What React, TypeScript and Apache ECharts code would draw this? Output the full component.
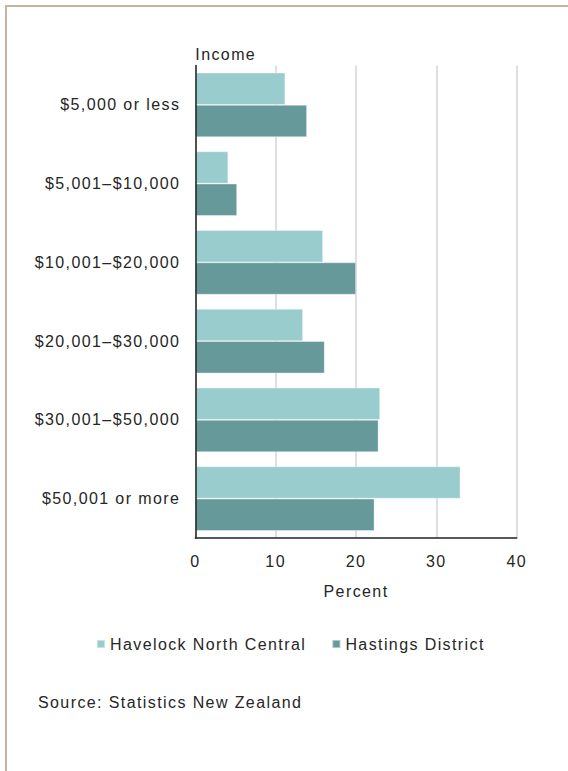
import React, { useEffect, useRef } from "react";
import * as echarts from "echarts";

const categories = [
  "$5,000 or less",
  "$5,001–$10,000",
  "$10,001–$20,000",
  "$20,001–$30,000",
  "$30,001–$50,000",
  "$50,001 or more",
];
const havelockNorthCentral = [11.2, 4.1, 15.9, 13.4, 23.0, 33.0];
const hastingsDistrict = [13.9, 5.2, 20.0, 16.1, 22.8, 22.3];
const seriesNames = ["Havelock North Central", "Hastings District"];
const xTicks = { min: 0, max: 40, interval: 10 };
const xAxisTitle = "Percent";
const yAxisTitle = "Income";
const sourceNote = "Source: Statistics New Zealand";

const FONT = "'Liberation Sans', Arial, sans-serif";
const FS = 16;
const TEXT = "#262626";

export default function App() {
  const ref = useRef<HTMLDivElement>(null);
  useEffect(() => {
    if (!ref.current) return;
    const chart = echarts.init(ref.current, undefined, { renderer: "svg" });
    chart.setOption({
      animation: false,
      backgroundColor: "#ffffff",
      textStyle: { fontFamily: FONT, fontSize: FS, color: TEXT },
      grid: { left: 195.3, right: 51.3, top: 65.5, bottom: 233, containLabel: false },
      legend: {
        left: 91,
        top: 631,
        itemWidth: 8,
        itemHeight: 8,
        itemGap: 56,
        icon: "rect",
        textStyle: { fontFamily: FONT, fontSize: FS, color: TEXT },
        data: seriesNames,
      },
      xAxis: {
        type: "value",
        min: xTicks.min,
        max: xTicks.max,
        interval: xTicks.interval,
        name: xAxisTitle,
        nameLocation: "middle",
        nameGap: 45,
        nameTextStyle: { fontFamily: FONT, fontSize: FS, color: TEXT },
        axisLine: { show: true, lineStyle: { color: "#222", width: 1.5 } },
        axisTick: { show: false },
        axisLabel: { margin: 15, fontFamily: FONT, fontSize: FS, color: TEXT },
        splitLine: { show: true, lineStyle: { color: "#d4d4d4", width: 1.5 } },
      },
      yAxis: {
        type: "category",
        inverse: true,
        z: 5,
        data: categories,
        name: yAxisTitle,
        nameLocation: "start",
        nameGap: 3,
        nameTextStyle: { fontFamily: FONT, fontSize: FS, color: TEXT, align: "left", verticalAlign: "bottom" },
        axisLine: { show: true, lineStyle: { color: "#222", width: 1.5 } },
        axisTick: { show: false },
        axisLabel: { margin: 15, fontFamily: FONT, fontSize: FS, color: TEXT },
        splitLine: { show: false },
      },
      series: [
        {
          name: seriesNames[0],
          type: "bar",
          data: havelockNorthCentral,
          barGap: "0%",
          barCategoryGap: "18%",
          itemStyle: { color: "#99cccc", borderColor: "rgba(255,255,255,0.45)", borderWidth: 0.8 },
        },
        {
          name: seriesNames[1],
          type: "bar",
          data: hastingsDistrict,
          barGap: "0%",
          barCategoryGap: "18%",
          itemStyle: { color: "#669999", borderColor: "rgba(255,255,255,0.45)", borderWidth: 0.8 },
        },
      ],
      graphic: [
        {
          type: "line",
          shape: { x1: 5.5, y1: 6, x2: 568, y2: 6 },
          style: { stroke: "#c3b4a4", lineWidth: 2 },
        },
        {
          type: "line",
          shape: { x1: 6, y1: 5, x2: 6, y2: 771 },
          style: { stroke: "#c3b4a4", lineWidth: 2 },
        },
        {
          type: "text",
          left: 38,
          top: 694,
          style: { text: sourceNote, font: `${FS}px ${FONT}`, fill: TEXT },
        },
      ],
    });
    return () => chart.dispose();
  }, []);
  return (
    <div
      ref={ref}
      style={{ position: "fixed", left: 0, top: 0, width: 568, height: 771, letterSpacing: "1.4px" }}
    />
  );
}
